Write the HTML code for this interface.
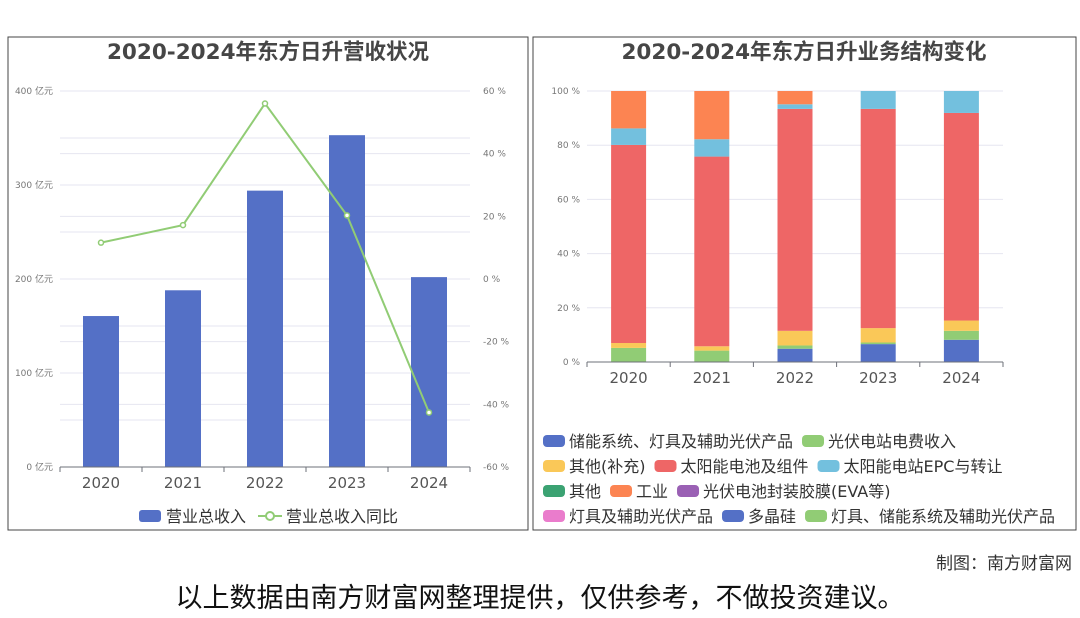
<!DOCTYPE html>
<html><head><meta charset="utf-8"><style>
body{margin:0;width:1080px;height:614px;background:#fff;overflow:hidden;font-family:"DejaVu Sans","Noto Sans CJK SC",sans-serif}
svg text{font-family:"DejaVu Sans","Noto Sans CJK SC",sans-serif}
</style></head><body>
<svg id="s" width="1080" height="614">
<rect x="8" y="37" width="520" height="493" fill="none" stroke="#444" stroke-width="1"/>
<rect x="533" y="37" width="543" height="493" fill="none" stroke="#444" stroke-width="1"/>
<text x="268" y="59" text-anchor="middle" font-size="21.5" font-weight="bold" fill="#464646">2020-2024年东方日升营收状况</text>
<text x="804" y="59" text-anchor="middle" font-size="21.5" font-weight="bold" fill="#464646">2020-2024年东方日升业务结构变化</text>
<g id="L"></g><g id="R"></g>
<text x="1072" y="569" text-anchor="end" font-size="17" fill="#333">制图：南方财富网</text>
<text x="540" y="607" text-anchor="middle" font-size="27" fill="#111">以上数据由南方财富网整理提供，仅供参考，不做投资建议。</text>
</svg>
<script>
const years=["2020","2021","2022","2023","2024"];
const revenue=[160.6,188,294,353,202];
const growth=[11.6,17.2,56.0,20.3,-42.6];
const leftTicks=[0,100,200,300,400];
const rightTicks=[-60,-40,-20,0,20,40,60];
const seriesNames=["储能系统、灯具及辅助光伏产品","光伏电站电费收入","其他(补充)","太阳能电池及组件","太阳能电站EPC与转让","其他","工业","光伏电池封装胶膜(EVA等)","灯具及辅助光伏产品","多晶硅","灯具、储能系统及辅助光伏产品"];
const seriesColors=["#5470c6","#91cc75","#fac858","#ee6666","#73c0de","#3ba272","#fc8452","#9a60b4","#ea7ccc","#5470c6","#91cc75"];
const s0=[0,0,4.9,6.6,8.2];
const s1=[5.2,4.2,1.2,0.6,3.3];
const s2=[1.8,1.6,5.4,5.3,3.8];
const s3=[73.1,70.0,81.9,80.9,76.6];
const s4=[6.1,6.4,1.7,6.6,8.1];
const s5=[0,0,0,0,0];
const s6=[13.8,17.8,4.9,0,0];
const s7=[0,0,0,0,0];
const s8=[0,0,0,0,0];
const s9=[0,0,0,0,0];
const s10=[0,0,0,0,0];
const pctTicks=[0,20,40,60,80,100];
const NS="http://www.w3.org/2000/svg";
function mk(p,t,a,txt){const e=document.createElementNS(NS,t);for(const k in a)e.setAttribute(k,a[k]);if(txt!=null)e.textContent=txt;p.appendChild(e);return e;}
const L=document.getElementById('L');
const lx0=60,lx1=470,ly0=467,ly1=91;
const yL=v=>ly0-(v/400)*(ly0-ly1);
const yR=v=>ly0-((v+60)/120)*(ly0-ly1);
const bw=(lx1-lx0)/years.length;
const xL=i=>lx0+bw*(i+0.5);
[0,50,100,150,200,250,300,350,400].forEach(v=>{if(v>0){const g=mk(L,'line',{x1:lx0,x2:lx1,y1:yL(v),y2:yL(v),stroke:'#e6e6f0'});}});
rightTicks.forEach(v=>{const g=mk(L,'line',{x1:lx0,x2:lx1,y1:yR(v),y2:yR(v),stroke:'#e6e6f0'});});
leftTicks.forEach(v=>{const t=mk(L,'text',{x:lx0-7,y:yL(v)+3,'text-anchor':'end','font-size':9,fill:'#777'},v+' 亿元');});
rightTicks.forEach(v=>{const t=mk(L,'text',{x:lx1+13,y:yR(v)+3,'font-size':9,fill:'#777'},v+' %');});
revenue.forEach((v,i)=>{const r=mk(L,'rect',{x:xL(i)-18,y:yL(v),width:36,height:ly0-yL(v),fill:'#5470c6'});});
const ax=mk(L,'line',{x1:lx0,x2:lx1,y1:ly0,y2:ly0,stroke:'#6e7079'});
years.forEach((y,i)=>{const tk=mk(L,'line',{x1:lx0+bw*i,x2:lx0+bw*i,y1:ly0,y2:ly0+5,stroke:'#6e7079'});
const t=mk(L,'text',{x:xL(i),y:ly0+21,'text-anchor':'middle','font-size':15,fill:'#555'},y);});
{const tk=mk(L,'line',{x1:lx1,x2:lx1,y1:ly0,y2:ly0+5,stroke:'#6e7079'});}
const pl=mk(L,'polyline',{points:growth.map((v,i)=>xL(i)+','+yR(v)).join(' '),fill:'none',stroke:'#91cc75','stroke-width':2});
growth.forEach((v,i)=>{const c=mk(L,'circle',{cx:xL(i),cy:yR(v),r:2.5,fill:'#fff',stroke:'#91cc75','stroke-width':1.5});});
{const r=mk(L,'rect',{x:139,y:510,width:22,height:12,rx:3,fill:'#5470c6'});
const t=mk(L,'text',{x:166,y:522,'font-size':16,fill:'#333'},'营业总收入');
const l=mk(L,'line',{x1:258,x2:282,y1:516,y2:516,stroke:'#91cc75','stroke-width':2});
const c=mk(L,'circle',{cx:270,cy:516,r:4,fill:'#fff',stroke:'#91cc75','stroke-width':2});
const t2=mk(L,'text',{x:286,y:522,'font-size':16,fill:'#333'},'营业总收入同比');}
const R=document.getElementById('R');
const rx0=587,rx1=1003,ry0=362,ry1=91;
const yP=v=>ry0-(v/100)*(ry0-ry1);
const rbw=(rx1-rx0)/years.length;
const xP=i=>rx0+rbw*(i+0.5);
pctTicks.forEach(v=>{if(v>0){const g=mk(R,'line',{x1:rx0,x2:rx1,y1:yP(v),y2:yP(v),stroke:'#e6e6f0'});}
const t=mk(R,'text',{x:rx0-7,y:yP(v)+3,'text-anchor':'end','font-size':9,fill:'#777'},v+' %');});
const series=[s0,s1,s2,s3,s4,s5,s6,s7,s8,s9,s10];
years.forEach((y,i)=>{let acc=0;series.forEach((s,k)=>{const v=s[i];if(v>0){const r=mk(R,'rect',{x:xP(i)-17.5,y:yP(acc+v),width:35,height:yP(acc)-yP(acc+v),fill:seriesColors[k]});}acc+=v;});});
{const a=mk(R,'line',{x1:rx0,x2:rx1,y1:ry0,y2:ry0,stroke:'#6e7079'});}
years.forEach((y,i)=>{const tk=mk(R,'line',{x1:rx0+rbw*i,x2:rx0+rbw*i,y1:ry0,y2:ry0+5,stroke:'#6e7079'});
const t=mk(R,'text',{x:xP(i),y:ry0+21,'text-anchor':'middle','font-size':15,fill:'#555'},y);});
{const tk=mk(R,'line',{x1:rx1,x2:rx1,y1:ry0,y2:ry0+5,stroke:'#6e7079'});}
const rows=[[0,1],[2,3,4],[5,6,7],[8,9,10]];
rows.forEach((row,ri)=>{let x=543;const yc=441+ri*25;row.forEach(k=>{const r=mk(R,'rect',{x:x,y:yc-6,width:22,height:12,rx:4,fill:seriesColors[k]});
const t=mk(R,'text',{x:x+26,y:yc+6,'font-size':16,fill:'#333'},seriesNames[k]);
x+=26+t.getComputedTextLength()+9;});});
</script>
</body></html>
